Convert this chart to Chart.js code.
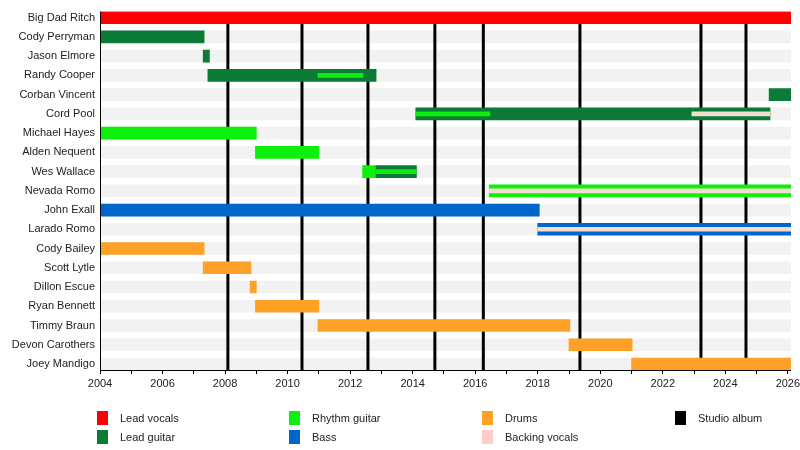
<!DOCTYPE html>
<html lang="en">
<head>
  <meta charset="utf-8" />
  <title>Band members timeline</title>
  <style>
    * { margin: 0; padding: 0; box-sizing: border-box; }
    body { width: 800px; height: 450px; background: #fff; font-family: "Liberation Sans", Arial, sans-serif; }
    .wrap { position: relative; width: 800px; height: 450px; }
    #chart { position: absolute; left: 0; top: 0; }
    .legend { position: absolute; left: 0; top: 0; width: 800px; height: 450px; pointer-events: none; }
    .item { position: absolute; font-size: 11px; color: #222; line-height: 14px; }
    .item i { position: absolute; left: -23px; top: 0; width: 11px; height: 14px; }
  </style>
</head>
<body>
  <div class="wrap">
    <canvas id="chart" width="800" height="450"></canvas>
    <div class="legend" id="legend"></div>
  </div>

  <script src="https://cdn.jsdelivr.net/npm/chart.js@4.4.1/dist/chart.umd.min.js"></script>
  <script>
    // members, top to bottom
    const members = [
      "Big Dad Ritch", "Cody Perryman", "Jason Elmore", "Randy Cooper", "Corban Vincent",
      "Cord Pool", "Michael Hayes", "Alden Nequent", "Wes Wallace", "Nevada Romo",
      "John Exall", "Larado Romo", "Cody Bailey", "Scott Lytle", "Dillon Escue",
      "Ryan Bennett", "Timmy Braun", "Devon Carothers", "Joey Mandigo"
    ];

    const startYear = 2004;
    const endYear = 2026.1;

    // main bars: [member, from, to]
    const leadVocals = [["Big Dad Ritch", 2004, 2026.1]];
    const leadGuitar = [
      ["Cody Perryman", 2004, 2007.33],
      ["Jason Elmore", 2007.3, 2007.5],
      ["Randy Cooper", 2007.45, 2012.83],
      ["Corban Vincent", 2025.4, 2026.1],
      ["Cord Pool", 2014.1, 2025.43],
      ["Wes Wallace", 2012.83, 2014.12]
    ];
    const rhythmGuitar = [
      ["Michael Hayes", 2004, 2009.0],
      ["Alden Nequent", 2008.97, 2011.0],
      ["Wes Wallace", 2012.4, 2012.83],
      ["Nevada Romo", 2016.45, 2026.1]
    ];
    const bass = [
      ["John Exall", 2004, 2018.05],
      ["Larado Romo", 2018.0, 2026.1]
    ];
    const drums = [
      ["Cody Bailey", 2004, 2007.33],
      ["Scott Lytle", 2007.3, 2008.83],
      ["Dillon Escue", 2008.8, 2009.0],
      ["Ryan Bennett", 2008.97, 2011.0],
      ["Timmy Braun", 2010.97, 2019.03],
      ["Devon Carothers", 2019.0, 2021.02],
      ["Joey Mandigo", 2021.0, 2026.1]
    ];

    // secondary roles, drawn as thin stripes inside the main bar
    const rhythmGuitarExtra = [
      ["Randy Cooper", 2010.97, 2012.41],
      ["Cord Pool", 2014.1, 2016.47],
      ["Wes Wallace", 2012.83, 2014.12]
    ];
    const backingVocals = [
      ["Cord Pool", 2022.93, 2025.43],
      ["Nevada Romo", 2016.45, 2026.1],
      ["Larado Romo", 2018.0, 2026.1]
    ];

    // studio album release dates
    const albums = [2008.09, 2010.46, 2012.57, 2014.71, 2016.26, 2019.35, 2023.22, 2024.66];

    const colors = {
      leadVocals: "#ff0000",
      leadGuitar: "#0a7a36",
      rhythmGuitar: "#0cf00c",
      bass: "#0066cc",
      drums: "#ffa126",
      backingVocals: "#f4dccf",
      album: "#000000",
      stripe: "#f2f2f2"
    };

    const toPoints = (rows) => rows.map(([name, from, to]) => ({ x: [from, to], y: members.indexOf(name) }));

    const mainBar = (label, rows, color) => ({
      label, data: toPoints(rows), backgroundColor: color,
      barThickness: 12, order: 2, grouped: false, borderSkipped: false, borderWidth: 0
    });
    const innerBar = (label, rows, color) => ({
      label, data: toPoints(rows), backgroundColor: color,
      barThickness: 4, order: 1, grouped: false, borderSkipped: false, borderWidth: 0
    });

    const datasets = [
      {
        id: "stripes", label: "rows",
        data: members.map((_, i) => ({ x: [startYear, endYear], y: i })),
        backgroundColor: colors.stripe, barThickness: 12, order: 3, grouped: false, borderWidth: 0
      },
      mainBar("Lead vocals", leadVocals, colors.leadVocals),
      mainBar("Lead guitar", leadGuitar, colors.leadGuitar),
      mainBar("Rhythm guitar", rhythmGuitar, colors.rhythmGuitar),
      mainBar("Bass", bass, colors.bass),
      mainBar("Drums", drums, colors.drums),
      innerBar("Rhythm guitar (2nd)", rhythmGuitarExtra, colors.rhythmGuitar),
      innerBar("Backing vocals", backingVocals, colors.backingVocals)
    ];

    // album lines sit over the row stripes, under the member bars;
    // the axis lines go on top of everything
    const albumLines = {
      id: "albumLines",
      afterDatasetDraw(chart, args) {
        if (chart.data.datasets[args.index].id !== "stripes") return;
        const { ctx, chartArea, scales } = chart;
        ctx.save();
        ctx.strokeStyle = colors.album;
        ctx.lineWidth = 3;
        albums.forEach((year) => {
          const x = scales.x.getPixelForValue(year);
          ctx.beginPath();
          ctx.moveTo(x, chartArea.top + 2);
          ctx.lineTo(x, chartArea.bottom);
          ctx.stroke();
        });
        ctx.restore();
      },
      afterDatasetsDraw(chart) {
        const { ctx, chartArea } = chart;
        ctx.save();
        ctx.strokeStyle = "#000";
        ctx.lineWidth = 1;
        ctx.beginPath();
        ctx.moveTo(chartArea.left + 0.5, chartArea.top);
        ctx.lineTo(chartArea.left + 0.5, chartArea.bottom + 0.5);
        ctx.lineTo(chartArea.right, chartArea.bottom + 0.5);
        ctx.stroke();
        ctx.restore();
      }
    };

    new Chart(document.getElementById("chart"), {
      type: "bar",
      data: { datasets },
      plugins: [albumLines],
      options: {
        indexAxis: "y",
        responsive: false,
        animation: false,
        layout: { padding: { top: 11, right: 9, bottom: 60, left: 0 } },
        plugins: { legend: { display: false }, tooltip: { enabled: false } },
        scales: {
          x: {
            type: "linear",
            min: startYear,
            max: endYear,
            afterFit: (s) => { s.height = 20; s.paddingLeft = 0; s.paddingRight = 0; },
            ticks: {
              stepSize: 1,
              includeBounds: false,
              autoSkip: false,
              maxRotation: 0,
              padding: 3,
              color: "#222",
              font: { family: "Liberation Sans", size: 11 },
              callback: (v) => (Math.round(v) % 2 === 0 ? String(Math.round(v)) : "")
            },
            grid: { display: true, drawOnChartArea: false, drawTicks: true, tickLength: 4, color: "#000" },
            border: { display: false }
          },
          y: {
            type: "linear",
            reverse: true,
            offset: false,
            min: -0.311,
            max: members.length - 1 + 0.311,
            afterFit: (s) => { s.width = 100; },
            ticks: {
              stepSize: 1,
              includeBounds: false,
              autoSkip: false,
              padding: 5,
              color: "#222",
              font: { family: "Liberation Sans", size: 11 },
              callback: (v) => members[Math.round(v)]
            },
            grid: { display: false, drawTicks: false, tickLength: 0 },
            border: { display: false }
          }
        }
      }
    });

    // legend, laid out in a grid like the original
    const legendItems = [
      ["Lead vocals", colors.leadVocals, 120, 411],
      ["Lead guitar", colors.leadGuitar, 120, 430],
      ["Rhythm guitar", colors.rhythmGuitar, 312, 411],
      ["Bass", colors.bass, 312, 430],
      ["Drums", colors.drums, 505, 411],
      ["Backing vocals", "#ffcccc", 505, 430],
      ["Studio album", colors.album, 698, 411]
    ];
    const legend = document.getElementById("legend");
    legendItems.forEach(([text, color, x, y]) => {
      const el = document.createElement("div");
      el.className = "item";
      el.style.left = x + "px";
      el.style.top = y + "px";
      el.innerHTML = `<i style="background:${color}"></i>${text}`;
      legend.appendChild(el);
    });
  </script>
</body>
</html>
